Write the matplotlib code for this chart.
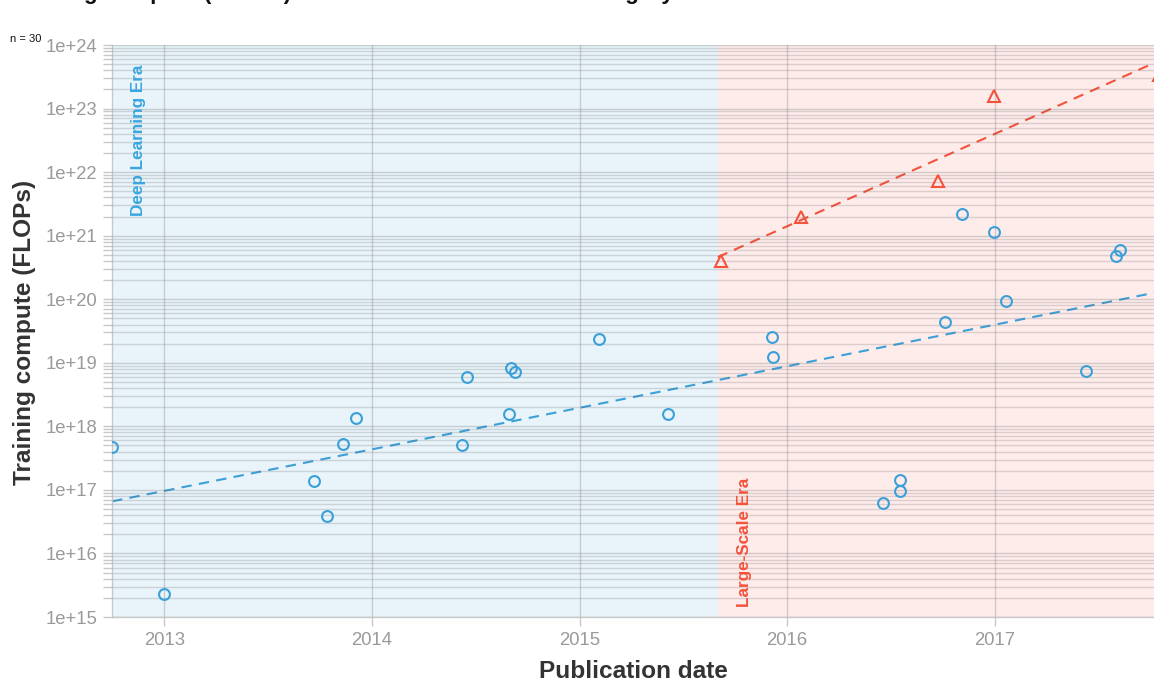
import matplotlib
matplotlib.use("Agg")
import matplotlib.pyplot as plt
import numpy as np

plt.rcParams['font.family'] = ['Liberation Sans', 'DejaVu Sans']

# ---- data (decimal years, FLOPs) ----
dl_dates = [2012.75, 2013.00, 2013.722, 2013.785, 2013.862, 2013.924, 2014.434,
            2014.458, 2014.66, 2014.67, 2014.69, 2015.094, 2015.426, 2015.927,
            2015.931, 2016.461, 2016.543, 2016.543, 2016.76, 2016.841, 2016.995,
            2017.053, 2017.438, 2017.582, 2017.602]
dl_compute = [4.7e17, 2.3e15, 1.38e17, 3.9e16, 5.3e17, 1.35e18, 5.1e17,
              6.0e18, 1.56e18, 8.3e18, 7.2e18, 2.37e19, 1.56e18, 2.55e19,
              1.23e19, 6.2e16, 1.43e17, 9.6e16, 4.4e19, 2.19e21, 1.14e21,
              9.4e19, 7.4e18, 4.8e20, 5.96e20]
ls_dates = [2015.681, 2016.066, 2016.726, 2016.995, 2017.79]
ls_compute = [4.0e20, 1.97e21, 7.2e21, 1.58e23, 3.4e23]

trend_dl_x = [2012.748, 2017.767]
trend_dl_y = [6.6e16, 1.26e20]
trend_ls_x = [2015.666, 2017.767]
trend_ls_y = [4.6e20, 5.2e23]

eras = ["Deep Learning Era", "Large-Scale Era"]
era_starts = [2012.748, 2015.666]
era_ends = [2015.666, 2017.767]

year_ticks = [2013, 2014, 2015, 2016, 2017]
year_labels = ["2013", "2014", "2015", "2016", "2017"]
n_label = "n = 30"
title = "Training compute (FLOPs) of notable models in each category"

BLUE = "#3b9fd8"
BLUE_TXT = "#3aa6df"
RED = "#f4523b"
BG_BLUE = "#e8f4fa"
BG_RED = "#fdecea"

W, H = 1154, 682
fig = plt.figure(figsize=(W / 100, H / 100), dpi=100)
ax = fig.add_axes([112 / W, (H - 617) / H, (1154 - 112) / W, (617 - 45) / H])

ax.set_yscale('log')
ax.set_ylim(1e15, 1e24)
ax.set_xlim(era_starts[0], era_ends[1])

ax.axvspan(era_starts[0], era_ends[0], color=BG_BLUE, zorder=0, lw=0)
ax.axvspan(era_starts[1], era_ends[1], color=BG_RED, zorder=0, lw=0)

GRID = (0.42, 0.42, 0.42)
ax.set_axisbelow(False)
ax.grid(True, which='major', axis='both', color=GRID, alpha=0.28, lw=1.0, zorder=1)
ax.grid(True, which='minor', axis='y', color=GRID, alpha=0.24, lw=1.0, zorder=1)

ax.plot(trend_dl_x, trend_dl_y, ls=(0, (5, 3.5)), color=BLUE, lw=1.5, zorder=2)
ax.plot(trend_ls_x, trend_ls_y, ls=(0, (5, 3.5)), color=RED, lw=1.5, zorder=2)

ax.plot(dl_dates, dl_compute, ls='none', marker='o', ms=7.8, mfc='none',
        mec=BLUE, mew=1.5, zorder=3)
ax.plot(ls_dates, ls_compute, ls='none', marker='^', ms=8.2, mfc='none',
        mec=RED, mew=1.5, zorder=3)

# era labels
ax.text(era_starts[0] + 0.13, 10 ** (24 - 20 / 63.56), eras[0], rotation=90,
        ha='center', va='top', color=BLUE_TXT, fontsize=12.3, fontweight='bold', zorder=4)
ax.text(era_starts[1] + 0.13, 10 ** (15 + 10 / 63.56), eras[1], rotation=90,
        ha='center', va='bottom', color=RED, fontsize=12.3, fontweight='bold', zorder=4)

ax.set_xticks(year_ticks)
ax.set_xticklabels(year_labels)
ax.yaxis.set_major_locator(matplotlib.ticker.LogLocator(base=10, numticks=20))
ax.yaxis.set_minor_locator(matplotlib.ticker.LogLocator(base=10, subs=np.arange(2, 10), numticks=200))
ax.yaxis.set_minor_formatter(matplotlib.ticker.NullFormatter())
ax.yaxis.set_major_formatter(matplotlib.ticker.FuncFormatter(
    lambda v, p: "1e+%d" % int(round(np.log10(v)))))

ax.tick_params(axis='both', which='both', color='#c8c8c8', labelcolor='#9a9a9a',
               labelsize=13.3, length=6.5, width=1.0)
ax.tick_params(axis='y', which='both', pad=4)
ax.tick_params(axis='x', which='both', pad=4)

for s in ['top', 'right']:
    ax.spines[s].set_visible(False)
for s in ['left', 'bottom']:
    ax.spines[s].set_color('#c8c8c8')
    ax.spines[s].set_linewidth(1.0)

fig.text(25 / W, 1 - 332 / H, "Training compute (FLOPs)", rotation=90, ha='center',
         va='center', fontsize=17.6, fontweight='bold', color='#333333')
fig.text(633 / W, 1 - 678 / H, "Publication date", ha='center', va='baseline',
         fontsize=17.6, fontweight='bold', color='#333333')
fig.text(10 / W, 1 - 42 / H, n_label, ha='left', va='baseline', fontsize=8, color='#111111')
fig.text(10 / W, 1.0 + 0.5 / H, title, ha='left', va='baseline', fontsize=16.2,
         fontweight='bold', color='#111111')

fig.savefig("out.png", dpi=100)
